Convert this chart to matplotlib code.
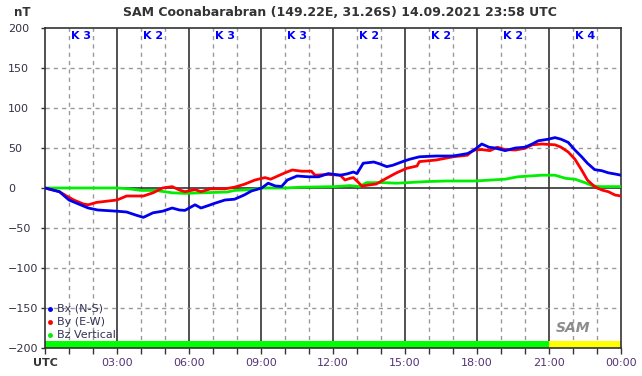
import matplotlib
matplotlib.use('Agg')
from matplotlib import pyplot as plt

# hours after 00:00 UTC and field values in nT
bx_t = [0, 0.6, 1.0, 1.6, 1.8, 2.2, 3.0, 3.4, 3.8, 4.1, 4.5, 4.9, 5.3, 5.6, 5.83,
        6.25, 6.5, 6.8, 7.08, 7.5, 7.9, 8.3, 8.6, 9.03, 9.3, 9.6, 9.86, 10.1, 10.5,
        10.97, 11.4, 11.8, 12.3, 12.57, 12.85, 13.0, 13.26, 13.7, 13.96, 14.24, 14.5,
        14.9, 15.2, 15.6, 16.3, 17.0, 17.6, 17.85, 18.2, 18.5, 18.75, 19.17, 19.6,
        20.0, 20.3, 20.55, 20.97, 21.25, 21.5, 21.8, 22.08, 22.36, 22.6, 22.9, 23.2,
        23.47, 23.75, 24.0]
bx = [0, -4.6, -15, -22.5, -25, -27.5, -29, -30, -34, -36.7, -31, -29, -25, -27.5, -28,
      -21, -25, -22, -19, -15, -14, -8.75, -3.75, 0, 6, 2.5, 2, 10, 15,
      14, 14, 18, 16, 17.5, 20, 18, 31, 32.5, 30, 26.7, 28.5,
      33, 36, 39, 40, 40, 43, 46.7, 55, 51, 50, 46.7, 50,
      51, 55, 59, 61, 63, 61, 57, 47.5, 39, 31, 23, 21.6,
      19, 17.5, 16]

by_t = [0, 0.6, 0.9, 1.2, 1.6, 1.8, 2.15, 2.57, 3.0, 3.4, 4.1, 4.5, 4.9, 5.3, 5.6,
        5.83, 6.25, 6.5, 6.9, 7.5, 7.9, 8.3, 8.75, 9.17, 9.4, 9.7, 10.0, 10.3, 10.7,
        11.1, 11.25, 11.8, 12.3, 12.5, 12.7, 12.85, 12.99, 13.2, 13.4, 13.8, 14.1,
        14.4, 14.65, 15.07, 15.5, 15.6, 16.3, 17.0, 17.6, 17.85, 18.2, 18.54, 18.85,
        19.17, 19.6, 20.0, 20.3, 20.7, 21.25, 21.5, 21.8, 22.08, 22.36, 22.6, 22.9,
        23.2, 23.47, 23.75, 24.0]
by = [0, -4.6, -10, -15, -20, -21, -18, -16.5, -15, -10, -10, -6, 0, 1.7, -2.5,
      -4.6, -2, -4.6, -1, -1, 1, 4.6, 10, 13, 11, 15, 19, 22.5, 21,
      21, 16, 17, 16, 10, 12, 13, 9, 2.5, 3.3, 5, 10,
      15, 19, 24.6, 27.5, 33, 35, 39, 41, 47.5, 48, 46.7, 51,
      48, 47.5, 49.6, 54, 55, 54, 51, 45, 36, 22.5, 10, 1.7,
      -2.5, -4.6, -8.75, -10]

bz_t = [0, 1.5, 3.0, 3.5, 4.0, 4.6, 5.3, 5.83, 7.6, 7.9, 8.6, 9.0, 10.0, 10.7, 12.08,
        12.7, 13.1, 13.4, 14.1, 14.65, 15.9, 16.7, 17.9, 19.17, 19.7, 20.7, 21.25,
        21.7, 22.08, 22.5, 22.8, 23.1, 24.0]
bz = [0, 0, 0, -1, -3, -3, -6, -6.7, -5, -3, -2, 0, 0, 1, 1.7,
      3, 1.7, 6.7, 6.7, 6, 8, 8.75, 8.75, 11, 14, 16, 16,
      12, 11, 6.7, 3, 1.7, 1.7]

k_index = [3, 2, 3, 3, 2, 2, 2, 4]
# activity bar colour per 3h block
bar_colors = ['#00ff00'] * 7 + ['#ffff00']

hour_labels = ['UTC', '03:00', '06:00', '09:00', '12:00', '15:00', '18:00', '21:00', '00:00']

fig = plt.figure(figsize=(6.42, 3.76), dpi=100)
ax = fig.add_axes([45 / 642, 28 / 376, 576 / 642, 320 / 376])

# grid: hourly dashed, 3-hourly solid
for h in range(1, 24):
    if h % 3 == 0:
        ax.axvline(h, color='#333333', lw=1.2, zorder=1)
    else:
        ax.axvline(h, color='#999999', lw=1, ls=(0, (3, 3)), zorder=1)
for v in [-150, -100, -50, 50, 100, 150]:
    ax.axhline(v, color='#999999', lw=1, ls=(0, (3, 3)), zorder=1)
ax.axhline(0, color='#333333', lw=1.2, zorder=1)

# activity bar at the bottom
for i, c in enumerate(bar_colors):
    ax.fill_between([i * 3, i * 3 + 3], -200, -191, color=c, lw=0, zorder=2)

ax.plot(bz_t, bz, color='#00ee00', lw=2, zorder=3)
ax.plot(by_t, by, color='#ff0000', lw=2, zorder=4)
ax.plot(bx_t, bx, color='#0000ee', lw=2, zorder=5)

# K index labels
for i, k in enumerate(k_index):
    ax.text(i * 3 + 1.5, 190, 'K ' + str(k), color='#0000ff', fontsize=8,
            fontweight='bold', ha='center', va='center', zorder=6)

# legend
leg = [('Bx (N-S)', '#0000ee', -151), ('By (E-W)', '#ff0000', -168), ('Bz Vertical', '#00ee00', -184)]
for name, c, yv in leg:
    ax.plot(0.22, yv, marker='o', ms=2.5, color=c, zorder=6)
    ax.text(0.5, yv, name, fontsize=8, color='#333355', va='center', zorder=6)

# logo
ax.text(22.0, -175, 'SAM', fontsize=10, fontstyle='italic', fontweight='bold',
        color='#8c8c8c', ha='center', va='center', zorder=6)

ax.set_xlim(0, 24)
ax.set_ylim(-200, 200)
ax.set_xticks(range(0, 25, 3))
ax.set_xticklabels(hour_labels)
ax.set_xticks(range(0, 25), minor=True)
ax.set_yticks(range(-200, 201, 50))
ax.tick_params(axis='x', which='both', direction='out', length=4, width=1,
               color='#333333', labelsize=8, labelcolor='#553377', pad=3)
ax.tick_params(axis='y', direction='out', length=3, width=1, color='#333333',
               labelsize=8, labelcolor='#333344', pad=23.5)
for lab in ax.get_yticklabels():
    lab.set_horizontalalignment('left')
ax.get_xticklabels()[0].set_fontweight('bold')
ax.get_xticklabels()[0].set_color('#333333')
for s in ax.spines.values():
    s.set_color('#333333')
    s.set_linewidth(1.2)

fig.text(22 / 642, 1 - 12 / 376, 'nT', fontsize=8.5, fontweight='bold',
         color='#333333', ha='center', va='center')
fig.text(340 / 642, 1 - 13 / 376, 'SAM Coonabarabran (149.22E, 31.26S) 14.09.2021 23:58 UTC',
         fontsize=9, fontweight='bold', color='#333333', ha='center', va='center')

plt.savefig('out.png', dpi=100)
